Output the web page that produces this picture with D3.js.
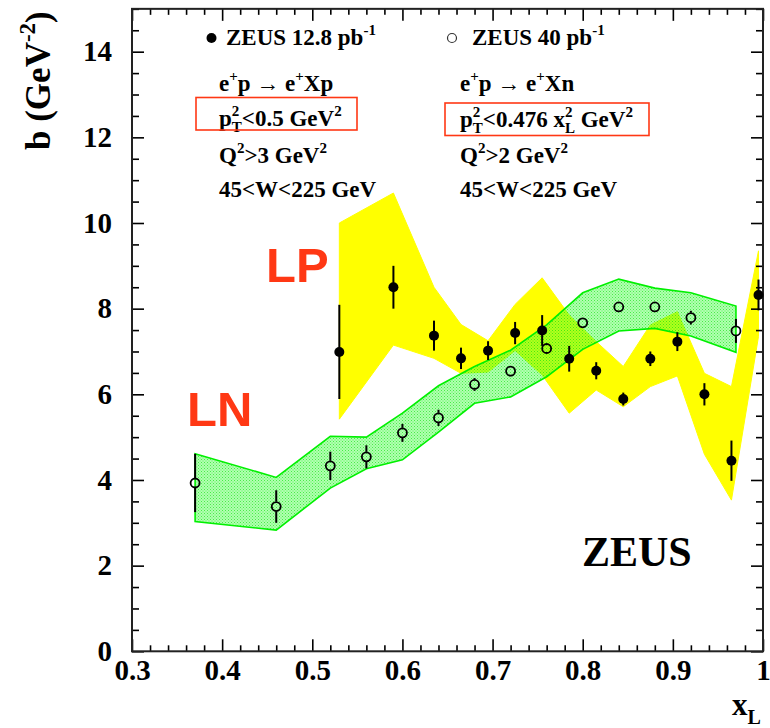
<!DOCTYPE html>
<html><head><meta charset="utf-8">
<script src="https://cdn.jsdelivr.net/npm/d3@7"></script>
<style>
html,body{margin:0;padding:0;background:#fff;}
svg text{font-family:"Liberation Serif","Times New Roman",serif;font-weight:bold;fill:#000;white-space:pre;}
</style></head>
<body>
<svg id="chart" width="770" height="728"></svg>
<script>
// ---- data ----
const lpX = [0.53,0.59,0.635,0.665,0.695,0.725,0.755,0.785,0.815,0.845,0.875,0.905,0.935,0.965,0.995];
const lpB = [6.99,8.50,7.37,6.84,7.02,7.43,7.49,6.83,6.55,5.89,6.83,7.23,6.00,4.45,8.32];
const lpErr = [1.10,0.50,0.35,0.25,0.22,0.26,0.36,0.30,0.20,0.15,0.17,0.22,0.26,0.47,0.36];
const lpSysHi = [10.0,10.7,8.5,7.63,7.25,8.1,8.72,7.85,7.23,6.65,7.62,7.93,6.49,6.18,9.35];
const lpSysLo = [5.42,7.15,6.84,6.49,6.52,7.02,6.45,5.56,6.10,5.71,6.18,6.43,4.60,3.53,7.35];

const lnX = [0.37,0.46,0.52,0.56,0.60,0.64,0.68,0.72,0.76,0.80,0.84,0.88,0.92,0.97];
const lnB = [3.93,3.38,4.33,4.54,5.10,5.45,6.23,6.54,7.07,7.67,8.04,8.04,7.79,7.48];
const lnErr = [0.68,0.38,0.33,0.27,0.21,0.19,0.15,0.12,0.12,0.10,0.10,0.10,0.16,0.28];
const lnSysHi = [4.61,4.06,5.02,5.00,5.56,6.20,6.65,7.03,7.62,8.37,8.69,8.48,8.37,8.06];
const lnSysLo = [3.03,2.83,3.81,4.26,4.47,5.12,5.79,5.94,6.41,7.05,7.48,7.54,7.36,6.98];

const xMajor = [0.3,0.4,0.5,0.6,0.7,0.8,0.9,1.0];
const xLabels = ["0.3","0.4","0.5","0.6","0.7","0.8","0.9","1"];
const yMajor = [0,2,4,6,8,10,12,14];
const yLabels = ["0","2","4","6","8","10","12","14"];

// ---- setup ----
const svg = d3.select("#chart");
const x = d3.scaleLinear().domain([0.3,1.0]).range([132,763]);
const y = d3.scaleLinear().domain([0,15]).range([651.3,8.85]);

const defs = svg.append("defs");
const pat = defs.append("pattern").attr("id","stip").attr("patternUnits","userSpaceOnUse")
  .attr("width",3).attr("height",3);
pat.append("rect").attr("width",3).attr("height",3).attr("fill","rgba(70,255,70,0.42)");
pat.append("rect").attr("x",0).attr("y",0).attr("width",1).attr("height",1).attr("fill","rgba(0,225,0,0.6)");
pat.append("rect").attr("x",1.5).attr("y",1.5).attr("width",1).attr("height",1).attr("fill","rgba(0,225,0,0.5)");

// yellow band (LP)
const lpBand = lpX.map((v,i)=>({x:v,lo:lpSysLo[i],hi:lpSysHi[i]}));
const area = d3.area().x(d=>x(d.x)).y0(d=>y(d.lo)).y1(d=>y(d.hi));
svg.append("path").datum(lpBand).attr("d",area).attr("fill","#ffff00").attr("stroke","#ffff00").attr("stroke-width",1);

// green band (LN)
const lnBand = lnX.map((v,i)=>({x:v,lo:lnSysLo[i],hi:lnSysHi[i]}));
svg.append("path").datum(lnBand).attr("d",area).attr("fill","url(#stip)").attr("stroke","#00f000").attr("stroke-width",1.6);

// ---- axes ----
function minorTicks(a,b,step){const r=[];for(let v=a;v<=b+1e-9;v+=step){r.push(+v.toFixed(4));}return r;}
const xMinor = minorTicks(0.3,1.0,0.02).filter(v=>!xMajor.some(m=>Math.abs(m-v)<1e-6));
const yMinor = minorTicks(0,15,0.5).filter(v=>!yMajor.some(m=>Math.abs(m-v)<1e-6));

function styleAxis(g){g.select(".domain").remove();g.selectAll("line").attr("stroke","#000").attr("stroke-width",1.6);}
function styleLabels(g){g.attr("font-family",null).selectAll("text").style("font-size","29px").style("font-family","Liberation Serif, Times New Roman, serif").style("font-weight","bold");}
// bottom
svg.append("g").attr("transform","translate(0,651.3)")
  .call(d3.axisBottom(x).tickValues(xMajor).tickSize(-12).tickPadding(8).tickFormat((d,i)=>xLabels[i]))
  .call(styleAxis).call(styleLabels);
svg.append("g").attr("transform","translate(0,651.3)")
  .call(d3.axisBottom(x).tickValues(xMinor).tickSize(-6).tickFormat(""))
  .call(styleAxis);
// top
svg.append("g").attr("transform","translate(0,8.85)")
  .call(d3.axisTop(x).tickValues(xMajor).tickSize(-12).tickFormat(""))
  .call(styleAxis);
svg.append("g").attr("transform","translate(0,8.85)")
  .call(d3.axisTop(x).tickValues(xMinor).tickSize(-6).tickFormat(""))
  .call(styleAxis);
// left
svg.append("g").attr("transform","translate(132,0)")
  .call(d3.axisLeft(y).tickValues(yMajor).tickSize(-12).tickPadding(20).tickFormat((d,i)=>yLabels[i]))
  .call(styleAxis).call(styleLabels);
svg.append("g").attr("transform","translate(132,0)")
  .call(d3.axisLeft(y).tickValues(yMinor).tickSize(-7).tickFormat(""))
  .call(styleAxis);
// right
svg.append("g").attr("transform","translate(763,0)")
  .call(d3.axisRight(y).tickValues(yMajor).tickSize(-12).tickFormat(""))
  .call(styleAxis);
svg.append("g").attr("transform","translate(763,0)")
  .call(d3.axisRight(y).tickValues(yMinor).tickSize(-7).tickFormat(""))
  .call(styleAxis);

// frame
svg.append("rect").attr("x",x(0.3)).attr("y",y(15)).attr("width",x(1.0)-x(0.3)).attr("height",y(0)-y(15))
  .attr("fill","none").attr("stroke","#222").attr("stroke-width",2);

// ---- data points ----
const R = 5;
// LN open circles
const lnPts = lnX.map((v,i)=>({x:v,b:lnB[i],e:lnErr[i]}));
const gLn = svg.append("g");
lnPts.forEach(d=>{
  const cx=x(d.x), cy=y(d.b), top=y(d.b+d.e), bot=y(d.b-d.e);
  if (cy-top>R) gLn.append("line").attr("x1",cx).attr("x2",cx).attr("y1",top).attr("y2",cy-R).attr("stroke","#000").attr("stroke-width",2);
  if (bot-cy>R) gLn.append("line").attr("x1",cx).attr("x2",cx).attr("y1",cy+R).attr("y2",bot).attr("stroke","#000").attr("stroke-width",2);
  gLn.append("circle").attr("cx",cx).attr("cy",cy).attr("r",R-0.5).attr("fill","none").attr("stroke","#000").attr("stroke-width",1.8);
});
// LP filled circles
const lpPts = lpX.map((v,i)=>({x:v,b:lpB[i],e:lpErr[i]}));
const gLp = svg.append("g");
lpPts.forEach(d=>{
  const cx=x(d.x);
  gLp.append("line").attr("x1",cx).attr("x2",cx).attr("y1",y(d.b+d.e)).attr("y2",y(d.b-d.e)).attr("stroke","#000").attr("stroke-width",2);
  gLp.append("circle").attr("cx",cx).attr("cy",y(d.b)).attr("r",R).attr("fill","#000");
});

// ---- rich text helper ----
function rich(parent,x0,y0,parts,fs){
  let cx=x0;
  const sfs=Math.round(fs*0.65);
  parts.forEach(p=>{
    if (typeof p==="string"){
      const t=parent.append("text").attr("x",cx).attr("y",y0).style("font-size",fs+"px").text(p);
      cx+=t.node().getComputedTextLength();
    } else {
      let w=0;
      if (p.sup!==undefined){const t=parent.append("text").attr("x",cx).attr("y",y0-fs*0.42).style("font-size",sfs+"px").text(p.sup);w=Math.max(w,t.node().getComputedTextLength());}
      if (p.sub!==undefined){const t=parent.append("text").attr("x",cx).attr("y",y0+fs*0.28).style("font-size",sfs+"px").text(p.sub);w=Math.max(w,t.node().getComputedTextLength());}
      cx+=w;
    }
  });
  return cx;
}

const fs=23;
const tg=svg.append("g");
// legend
tg.append("circle").attr("cx",211.5).attr("cy",38).attr("r",5).attr("fill","#000");
rich(tg,226,45,["ZEUS 12.8 pb",{sup:"-1"}],fs);
tg.append("circle").attr("cx",452).attr("cy",38).attr("r",4.5).attr("fill","none").attr("stroke","#333").attr("stroke-width",1.2);
rich(tg,472,45,["ZEUS 40 pb",{sup:"-1"}],fs);

// left column
rich(tg,219,91,["e",{sup:"+"},"p \u2192 e",{sup:"+"},"Xp"],fs);
rich(tg,219,126,["p",{sup:"2",sub:"T"},"<0.5 GeV",{sup:"2"}],fs);
rich(tg,219,163,["Q",{sup:"2"},">3 GeV",{sup:"2"}],fs);
rich(tg,219,197,["45<W<225 GeV"],fs);
// right column
rich(tg,460,91,["e",{sup:"+"},"p \u2192 e",{sup:"+"},"Xn"],fs);
rich(tg,460,127,["p",{sup:"2",sub:"T"},"<0.476 x",{sup:"2",sub:"L"}," GeV",{sup:"2"}],fs);
rich(tg,460,163,["Q",{sup:"2"},">2 GeV",{sup:"2"}],fs);
rich(tg,460,197,["45<W<225 GeV"],fs);

// red boxes
tg.append("rect").attr("x",196).attr("y",97.5).attr("width",161).attr("height",32.5).attr("fill","none").attr("stroke","#ff3814").attr("stroke-width",1.6);
tg.append("rect").attr("x",445).attr("y",103).attr("width",204).attr("height",32.5).attr("fill","none").attr("stroke","#ff3814").attr("stroke-width",1.6);

// LP / LN labels
tg.append("text").attr("x",266).attr("y",282).text("LP")
  .style("font-family","Liberation Sans, Arial, sans-serif").style("font-size","49px").style("fill","#ff3814");
tg.append("text").attr("x",187).attr("y",426).text("LN")
  .style("font-family","Liberation Sans, Arial, sans-serif").style("font-size","49px").style("fill","#ff3814");

// ZEUS
tg.append("text").attr("x",582).attr("y",566).text("ZEUS").style("font-size","42px");

// axis titles
rich(tg,732,715,["x",{sub:"L"}],31);
const yt=svg.append("g").attr("transform","translate(50,150) rotate(-90)");
rich(yt,0,0,["b (GeV",{sup:"-2"},")"],35);
</script>
</body></html>
